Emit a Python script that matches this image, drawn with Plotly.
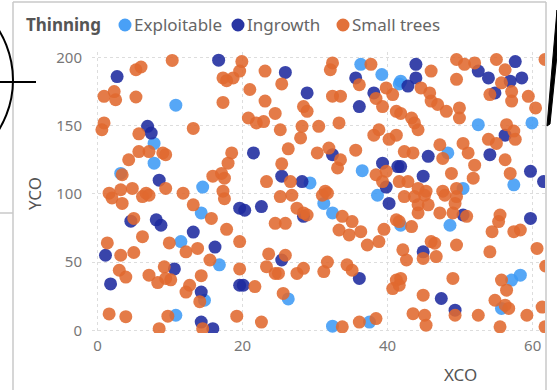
import plotly.graph_objects as go

# ---- data ----
expl_x = [10.8, 7.8, 7.8, 3.2, 14.5, 14.3, 11.5, 16.8, 14.75, 10.8, 36.3, 39.2, 41.6, 29.3, 36.5, 31.2,
          38.6, 32.4, 26.3, 32.4, 37.5, 41.8, 52.5, 59.9, 48.3, 57.4, 50.4, 48.6, 41.8, 58.3, 57.1, 55.7]
expl_y = [165, 137, 122.5, 115, 105, 86, 65, 48, 22, 11, 195, 187.5, 180.6, 108, 117, 93,
          99, 86, 23, 3, 6, 182.6, 150.7, 152, 130, 106.6, 104, 77, 77, 40.4, 36.8, 16]

ingr_x = [16.7, 2.7, 6.9, 7.4, 8.5, 19.6, 4.6, 8.1, 8.75, 13.2, 16.2, 1.1, 10.6, 1.8, 19.6, 14.3, 14.3, 15.9,
          25.9, 35.6, 28.9, 38.1, 36.1, 21.5, 32.4, 25.4, 28.2, 39.3, 41.4, 39.8, 20.3, 22.6, 40.2, 28.4,
          25.4, 36.1, 20.1, 43.9, 42.8, 43.9, 52.5, 53.9, 57.6, 58.5, 56.9, 54.8, 56.2, 54.1, 45.6, 44.9,
          41.8, 59.7, 61.5, 50.4, 59.7, 44.9, 47.4, 49.3]
ingr_y = [198, 186, 149.5, 144.6, 110, 89.5, 80, 81, 77, 72, 61, 55, 45, 34, 33, 28, 6, 1.2,
          189, 185, 174, 174, 164, 130, 128.7, 113, 109, 122.5, 120, 105, 88, 90.7, 93, 83.5,
          51.5, 38, 33, 195, 179, 185, 190, 185, 197, 185, 182.6, 174, 143, 128.7, 127.5, 113,
          120, 116.5, 109, 84.5, 82, 57.5, 23.3, 14.7]

small_x = [10.3, 19.9, 5.3, 6.0, 0.9, 2.3, 2.5, 5.3, 17.3, 18.7, 19.6, 17.8, 17.3, 0.9, 0.6, 5.7, 13.2, 5.7,
           7.1, 9.0, 9.4, 4.3, 18.5, 18.0, 3.4, 15.9, 17.1, 17.5, 3.2, 4.8, 9.4, 6.7, 1.6, 11.8, 17.3,
           2.0, 3.4, 6.2, 7.1, 13.2, 17.5, 15.7, 5.0, 6.2, 17.8, 1.35, 9.9, 12.2, 13.8, 19.6, 3.2, 5.0,
           15.5, 3.0, 3.9, 7.1, 8.3, 9.4, 10.1, 9.2, 14.3, 19.6, 12.7, 12.2, 14.1, 1.6, 3.9, 9.7, 19.2,
           8.5, 14.5,
           23.1, 25.4, 32.4, 32.1, 37.7, 36.1, 21.0, 32.4, 33.5, 38.4, 39.8, 40.7, 39.3, 23.1, 24.5, 28.4,
           28.9, 20.8, 21.9, 22.9, 41.2, 25.2, 28.2, 30.5, 33.3, 28.0, 38.1, 38.8, 40.2, 41.2, 26.3, 30.3,
           31.9, 33.5, 33.1, 35.6, 25.4, 23.3, 26.6, 31.4, 38.4, 39.3, 39.8, 41.6,
           25.2, 26.8, 31.0, 31.7, 27.5, 28.4, 28.9, 33.75, 35.1, 33.3, 34.7, 36.3, 37.2, 38.8, 39.5, 41.2,
           24.5, 25.9, 23.6, 25.9, 23.3, 24.5, 24.95, 27.5, 28.4, 31.2, 31.7, 34.4, 35.1, 41.2, 41.6, 40.7,
           21.7, 25.6, 22.6, 33.75, 36.1, 38.4,
           46.0, 49.5, 50.6, 52.0, 55.0, 49.5, 56.2, 55.7, 54.1, 57.1, 57.1, 59.4, 60.4, 61.7, 44.6, 45.8,
           46.0, 46.9, 48.1, 49.9, 49.9, 41.8, 43.3, 43.7, 44.2, 56.4, 57.4, 57.6, 53.9, 55.0, 50.4, 51.1,
           47.2, 47.6, 48.8, 52.0, 51.8, 56.9, 56.2, 42.3, 43.5, 42.8, 44.2, 45.3, 47.6, 49.5,
           42.3, 43.7, 45.1, 47.9, 49.5, 49.3, 44.2, 45.6, 44.2, 47.2, 49.0, 50.9, 43.3, 41.6, 55.5, 55.3,
           54.4, 58.3, 57.4, 46.0, 46.5, 49.5, 42.1, 42.6, 44.9, 46.7, 54.1, 60.6, 41.8, 49.0, 44.9, 55.7,
           56.4, 54.8, 56.2, 56.7, 49.3, 43.5, 45.1, 45.3, 52.5, 59.2, 61.3, 55.5, 61.7, 61.8, 62.6]
small_y = [197.8, 197, 191, 193, 171.5, 175, 169, 171, 185, 185, 190, 183, 167, 152, 147, 144, 148, 131,
           131, 130, 128.7, 125, 130, 122.5, 114, 113, 115, 111.5, 103, 104, 104, 100.5, 100.5, 100.5, 102,
           97, 93, 98, 99, 92, 96.5, 82, 82, 68.6, 74, 64, 64, 57.5, 60, 65, 55, 57,
           51.5, 44, 39, 40.4, 35, 38, 37, 46.5, 40, 45, 33, 28, 21, 12, 10, 10.3, 10.3,
           1.2, 1.2,
           190, 180.6, 196, 191, 195, 180, 176.5, 171.6, 171.6, 170, 177.7, 172.8, 164, 168, 159, 164,
           160.5, 155.6, 152, 153, 160.5, 147, 149.5, 149.5, 152, 141, 143, 147, 140, 143, 133, 130,
           133.6, 125, 119, 132, 122, 109, 109, 102, 114, 109, 116.5, 109,
           98, 99, 99, 100.5, 89.5, 86, 84.5, 83.5, 79.7, 73.5, 69.9, 72.3, 62.5, 65, 74, 81,
           78.4, 78.4, 56, 55, 46.6, 41.7, 41.7, 41.7, 45.4, 43, 50, 48, 44, 36.8, 33, 30.6,
           32, 27, 6, 2.5, 6, 8.6,
           190, 198.5, 195, 196, 198.5, 184, 191, 181.4, 172.8, 175, 168, 171.5, 163, 198.5, 177.7, 174,
           168, 165.5, 160.5, 163, 155.6, 159, 155.6, 152, 147, 150.7, 146, 140, 140, 137, 137, 130,
           136, 126, 115, 121, 111.5, 115, 125, 131, 130, 109, 104, 102, 102, 104,
           98, 98, 99, 99, 98, 93, 92, 92, 86, 86, 86, 83.5, 76, 79.7, 84.5, 79.7,
           72.3, 73.5, 72.3, 65, 63.8, 62.5, 59, 51.5, 52.7, 54, 57.5, 60, 38, 38, 25.7, 36.8,
           29.4, 22, 18.4, 16, 11, 12.2, 11, 3.7, 11, 11, 17, 2.5, 2.5, 47, 62]

series_names = ["Exploitable", "Ingrowth", "Small trees"]
series_colors = ["#3F9BF5", "#1E2A9E", "#E0692F"]
legend_title = "Thinning"
x_ticks = [0, 20, 40, 60]
y_ticks = [0, 50, 100, 150, 200]

FONT = "Noto Sans, Open Sans, sans-serif"

fig = go.Figure()
for name, xs, ys, col in zip(series_names, [expl_x, ingr_x, small_x], [expl_y, ingr_y, small_y], series_colors):
    fig.add_trace(go.Scatter(
        x=xs, y=ys, mode="markers", name=name,
        marker=dict(size=13, color=col, opacity=0.88, line=dict(width=0)),
        cliponaxis=True,
    ))

# plot area in pixels
L, R, T, B = 92, 545, 52, 333
W, H = 557, 390


def px(xp):
    return (xp - L) / (R - L)


def py(yp):
    return (B - yp) / (B - T)


shapes = [
    # panel borders
    dict(type="line", xref="paper", yref="paper", x0=px(13), x1=px(13), y0=py(2), y1=py(390),
         line=dict(color="#c8c8c8", width=1.5)),
    dict(type="line", xref="paper", yref="paper", x0=px(13), x1=px(546), y0=py(2), y1=py(2),
         line=dict(color="#c8c8c8", width=1.5)),
    dict(type="line", xref="paper", yref="paper", x0=px(546), x1=px(546), y0=py(2), y1=py(390),
         line=dict(color="#c8c8c8", width=1.5)),
    dict(type="line", xref="paper", yref="paper", x0=px(0), x1=px(13), y0=py(213), y1=py(213),
         line=dict(color="#c8c8c8", width=1.5)),
    # black decorations at the edges
    dict(type="circle", xref="paper", yref="paper", x0=px(-177), x1=px(13), y0=py(175), y1=py(-15),
         line=dict(color="black", width=2)),
    dict(type="line", xref="paper", yref="paper", x0=px(0), x1=px(36), y0=py(82), y1=py(82),
         line=dict(color="black", width=2)),
    dict(type="path", xref="paper", yref="paper",
         path=f"M {px(557)} {py(10)} L {px(547)} {py(126)} L {px(550)} {py(124)} L {px(557)} {py(55)} Z",
         fillcolor="black", line=dict(color="black", width=1)),
]

annotations = [
    dict(text="XCO", xref="paper", yref="paper", x=px(460), y=py(374), xanchor="center",
         yanchor="middle", showarrow=False, font=dict(size=17, color="#555555")),
    dict(text="YCO", xref="paper", yref="paper", x=px(35), y=py(194), xanchor="center",
         yanchor="middle", textangle=-90, showarrow=False, font=dict(size=17, color="#555555")),
    dict(text=f"<b>{legend_title}</b>", xref="paper", yref="paper", x=px(24), y=py(25),
         xanchor="left", yanchor="middle", showarrow=False, font=dict(size=17, color="#555555")),
]

# hand-placed legend (Power BI style: swatch close to the label)
legend_swatch_px = [125, 238, 343]
for name, col, sx in zip(series_names, series_colors, legend_swatch_px):
    shapes.append(dict(type="circle", xref="paper", yref="paper",
                       x0=px(sx - 6.5), x1=px(sx + 6.5), y0=py(25 + 6.5), y1=py(25 - 6.5),
                       fillcolor=col, line=dict(width=0), opacity=0.95))
    annotations.append(dict(text=name, xref="paper", yref="paper", x=px(sx + 7), y=py(25),
                            xanchor="left", yanchor="middle", showarrow=False,
                            font=dict(size=17, color="#666666")))

fig.update_layout(
    width=W, height=H,
    margin=dict(l=L, r=W - R, t=T, b=H - B, autoexpand=False),
    paper_bgcolor="white", plot_bgcolor="white",
    font=dict(family=FONT, size=15, color="#777777"),
    showlegend=False,
    xaxis=dict(range=[-0.76, 61.7], tickvals=x_ticks, showgrid=True, gridcolor="#dddddd",
               griddash="dot", gridwidth=1, zeroline=False, showline=False, ticks="",
               tickfont=dict(size=15, color="#777777"), ticklabelstandoff=2),
    yaxis=dict(range=[-2, 204], tickvals=y_ticks, showgrid=True, gridcolor="#dddddd",
               griddash="dot", gridwidth=1, zeroline=False, showline=False, ticks="",
               tickfont=dict(size=15, color="#777777"), ticklabelstandoff=9),
    shapes=shapes,
    annotations=annotations,
)

# the page's default body margin would shift the chart; remove it
fig.write_html("out.html", config={"displayModeBar": False},
               post_script="document.body.style.margin='0px';")
